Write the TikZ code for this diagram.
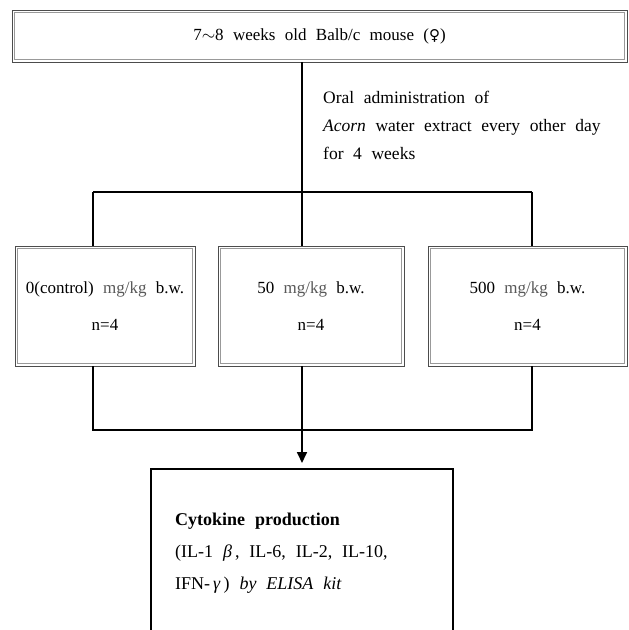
\documentclass[tikz,border=0pt]{standalone}
\usepackage{fontspec}
\setmainfont{Liberation Serif}[WordSpace=2.2]
\newfontfamily\symfont{DejaVu Sans}
\usetikzlibrary{arrows.meta}
\newcommand{\mgkg}{\textcolor{black!65}{mg/kg}}
\begin{document}
\begin{tikzpicture}[x=1pt,y=-1pt,
  dbox/.style={draw=black!70, line width=0.9pt,
    inner sep=0pt, outer sep=0pt, font=\fontsize{17}{37}\selectfont, align=center},
  inline/.style={draw=black!40, line width=0.9pt},
  conn/.style={line width=1.7pt, black},
  txt/.style={font=\fontsize{17.5}{28}\selectfont, inner sep=0pt, align=left},
  restxt/.style={font=\fontsize{18}{32}\selectfont, inner sep=0pt, align=left}]
\useasboundingbox (0,0) rectangle (629,630);
\clip (0,0) rectangle (629,630);
\fill[white] (0,0) rectangle (629,630);

% top box
\node[dbox, minimum width=615pt, minimum height=52pt] (top) at (319.5,36)
  {7$\sim$8 weeks old Balb/c mouse ({\symfont\fontsize{15}{15}\selectfont ♀})};
\draw[inline] ([shift={(2.2,2.2)}]top.north west) rectangle ([shift={(-2.2,-2.2)}]top.south east);

% annotation
\node[txt, anchor=base west] (oral) at (323,159)
  {Oral administration of\\ \textit{Acorn} water extract every other day\\ for 4 weeks};

% group boxes
\node[dbox, minimum width=180pt, minimum height=120pt] (g1) at (105,306)
  {0(control) \mgkg{} b.w.\\ n=4};
\node[dbox, minimum width=186pt, minimum height=120pt] (g2) at (311,306)
  {50 \mgkg{} b.w.\\ n=4};
\node[dbox, minimum width=199pt, minimum height=120pt] (g3) at (527.5,306)
  {500 \mgkg{} b.w.\\ n=4};
\foreach \g in {g1,g2,g3}
  \draw[inline] ([shift={(2.2,2.2)}]\g.north west) rectangle ([shift={(-2.2,-2.2)}]\g.south east);

% result box (cut off at the bottom)
\node[draw, line width=2pt, minimum width=302pt, minimum height=230pt, anchor=north,
  inner sep=0pt] (res) at (302,468) {};
\node[restxt, anchor=base west] (restext) at (175,589)
  {\textbf{Cytokine production}\\ (IL-1 \textit{β}\,, IL-6, IL-2, IL-10,\\ IFN-\,\textit{γ}\,) \textit{by ELISA kit}};

% connectors
\coordinate (j1) at (302,192);
\coordinate (bl) at (93,192);
\coordinate (br) at (532,192);
\coordinate (l1) at (93,430);
\coordinate (l2) at (302,430);
\coordinate (l3) at (532,430);

\draw[conn] (top.south -| j1) -- (j1);
\draw[conn] (bl) -- (br);
\draw[conn] (bl) -- (bl |- g1.north);
\draw[conn] (j1) -- (j1 |- g2.north);
\draw[conn] (br) -- (br |- g3.north);

\draw[conn] (l1 |- g1.south) -- (l1) -- (l3) -- (l3 |- g3.south);
\draw[conn] (l2 |- g2.south) -- (l2);
\draw[conn, -{Triangle[length=11pt,width=10pt]}, shorten >=5pt] (l2) -- (res.north);
\end{tikzpicture}
\end{document}
